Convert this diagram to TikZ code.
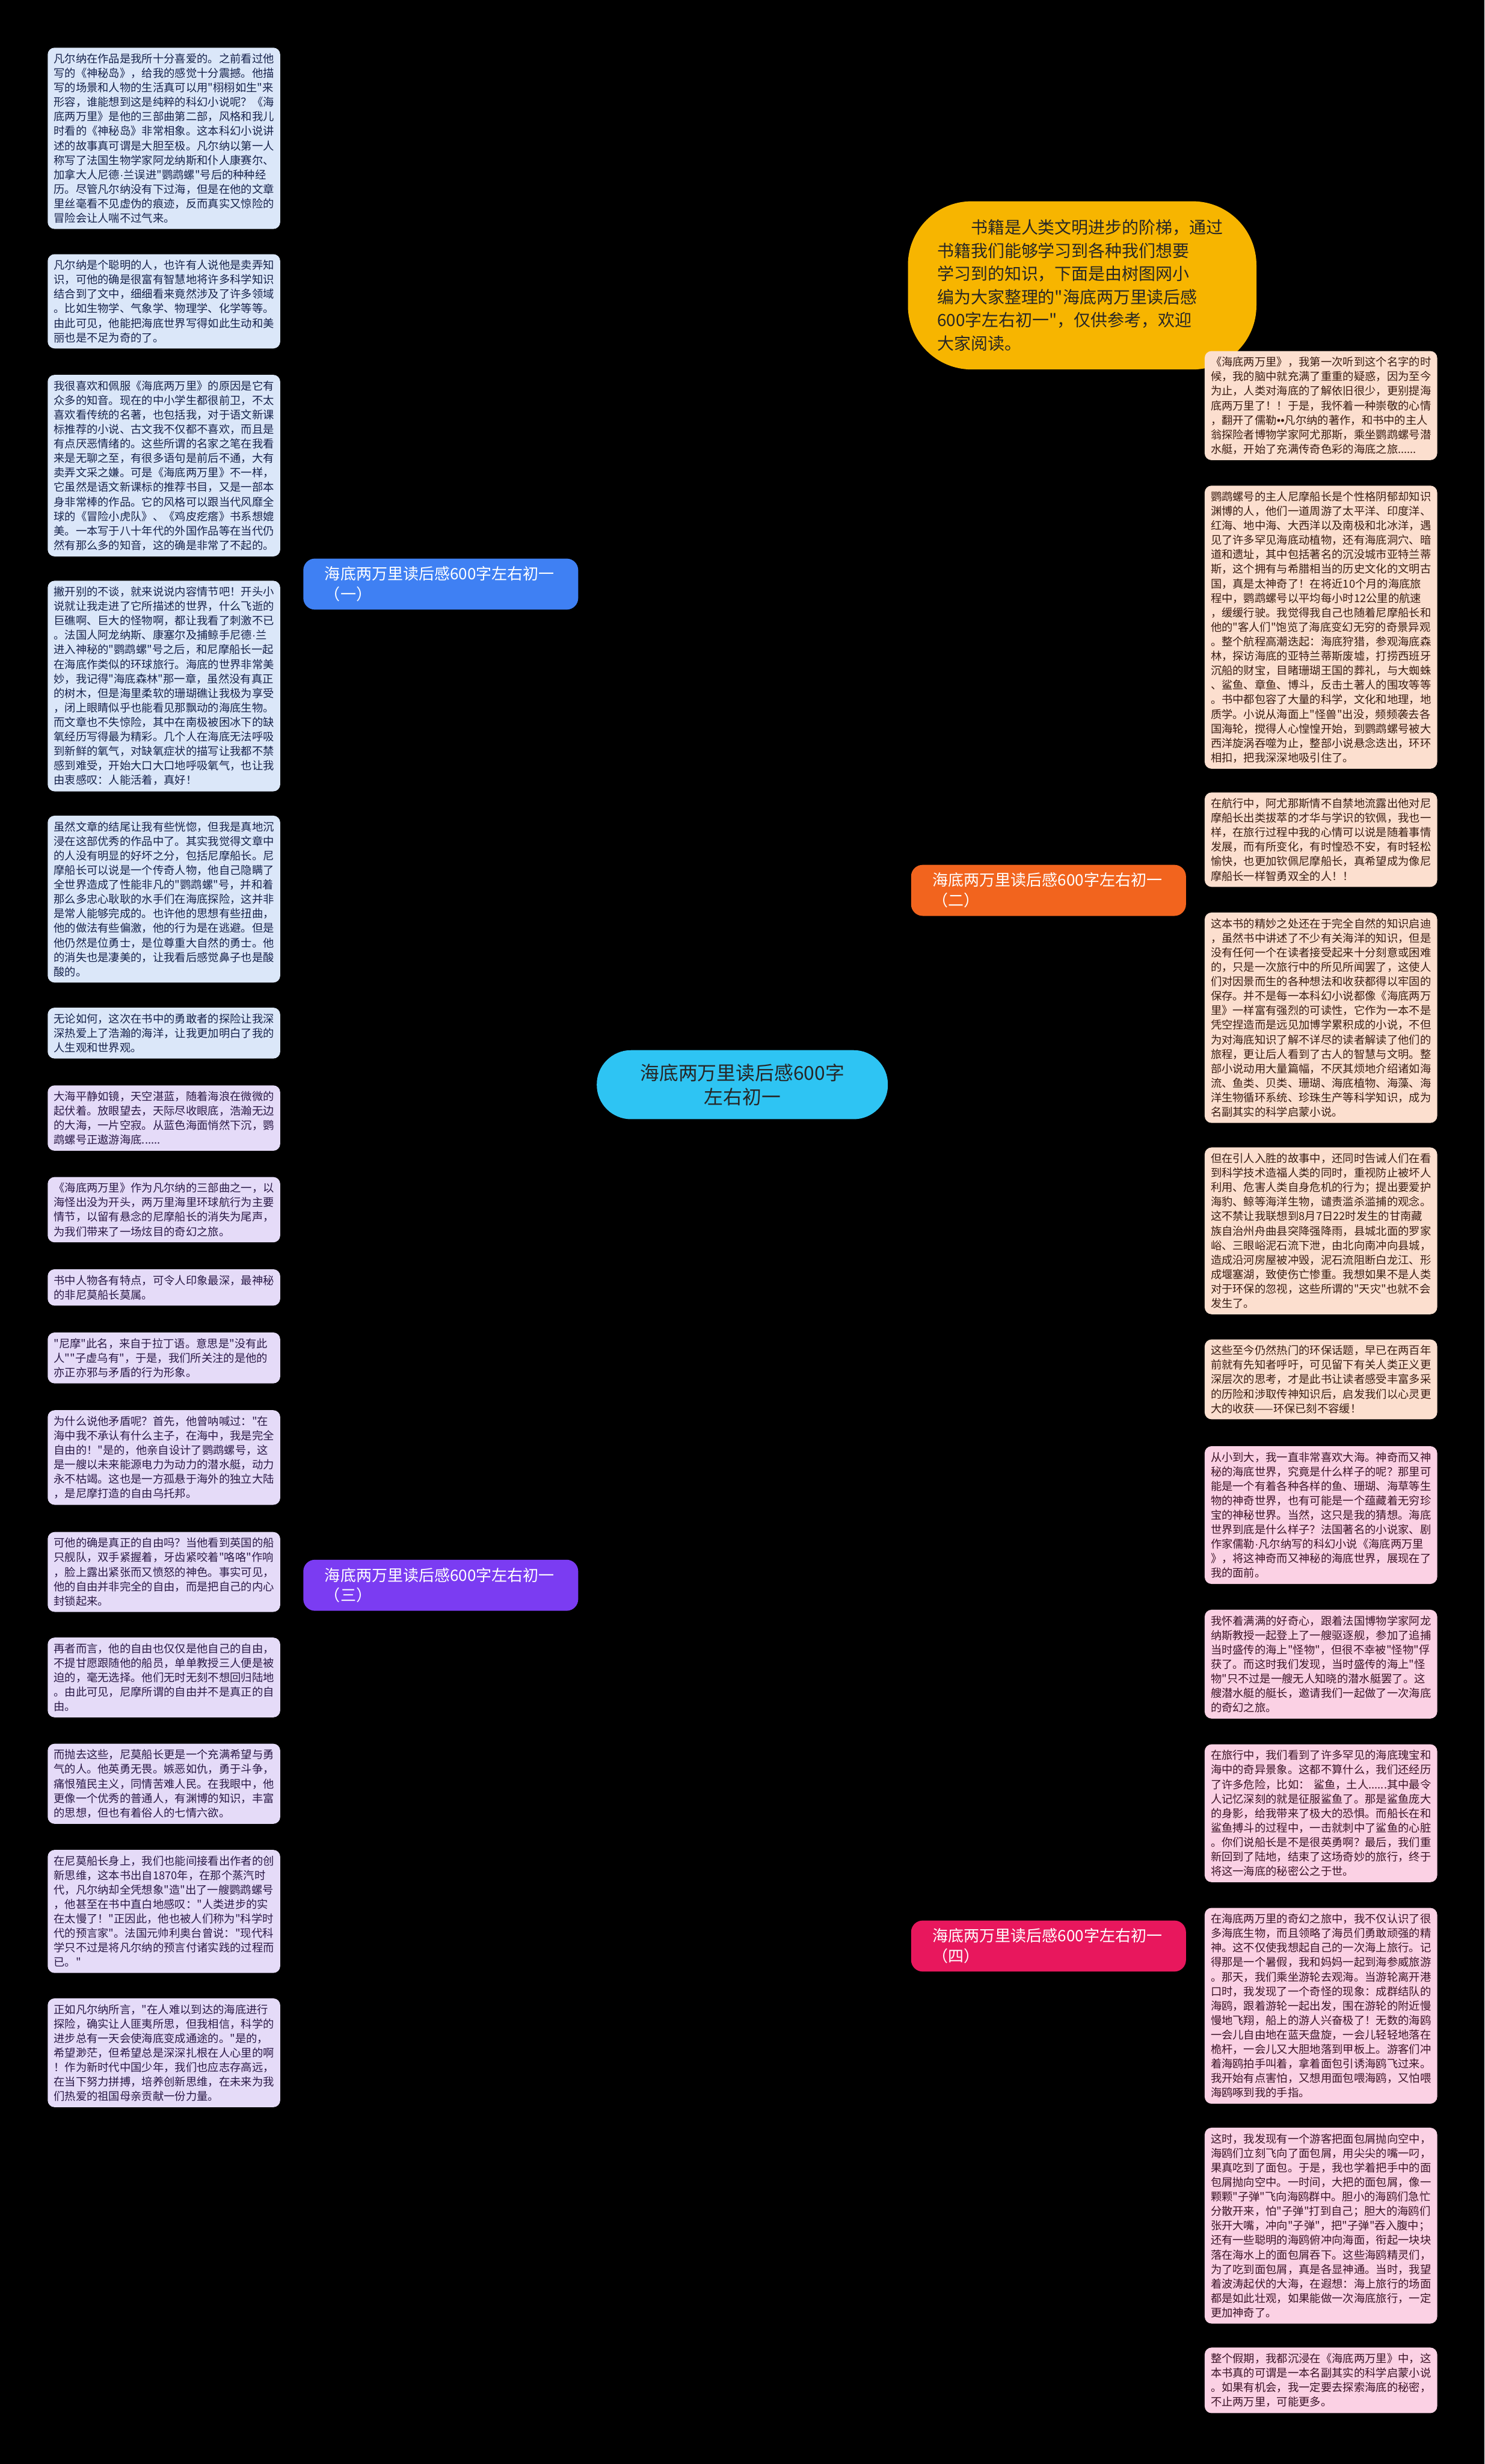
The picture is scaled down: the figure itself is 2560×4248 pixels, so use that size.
\documentclass[tikz,border=0pt]{standalone}
\usepackage{fontspec}
\newfontfamily\cjk{Noto Sans CJK SC}
\newfontfamily\lat{Liberation Sans}
\newcommand{\md}{{\lat ·}}
\newcommand{\bb}{{\lat ••}}
\usetikzlibrary{backgrounds,calc}
\definecolor{cCenter}{HTML}{2EC4F3}
\definecolor{cIntro}{HTML}{F7B500}
\definecolor{cBlue}{HTML}{3F80F3}
\definecolor{cOrange}{HTML}{F2641E}
\definecolor{cPurple}{HTML}{7B3CF2}
\definecolor{cPink}{HTML}{E8175D}
\definecolor{fBlue}{HTML}{DBE7F9}
\definecolor{fOrange}{HTML}{FCDFCF}
\definecolor{fPurple}{HTML}{E5DBF8}
\definecolor{fPink}{HTML}{FBD1E4}
\definecolor{tBlue}{HTML}{16224C}
\definecolor{tOrange}{HTML}{3A1C12}
\definecolor{tPurple}{HTML}{2A1947}
\definecolor{tPink}{HTML}{3C1327}
\tikzset{
  leaf/.style={anchor=north west, text width=380pt, inner xsep=10.5pt, inner ysep=10pt,
    rounded corners=12pt, align=left, font=\cjk\fontsize{19pt}{25pt}\selectfont},
  lb/.style={leaf, fill=fBlue, text=tBlue},
  lo/.style={leaf, fill=fOrange, text=tOrange},
  lp/.style={leaf, fill=fPurple, text=tPurple},
  lk/.style={leaf, fill=fPink, text=tPink},
  branch/.style={minimum width=474pt, minimum height=88pt, text width=400pt, align=left,
    rounded corners=20pt, text=white, inner sep=0pt, font=\cjk\fontsize{27pt}{35pt}\selectfont},
  conn/.style={line width=2.5pt},
  mainconn/.style={line width=4pt}
}
\begin{document}
\begin{tikzpicture}[x=1pt,y=-1pt]
\useasboundingbox (0,0) rectangle (2560,4248);
\fill[black] (0,0) rectangle (2560,4248);

% center and intro
\node[fill=cCenter, rounded corners=59pt, minimum width=502pt, minimum height=119pt, align=center,
  text=black!85, font=\cjk\fontsize{33pt}{42pt}\selectfont] (c) at (1280,1870) {海底两万里读后感600字\\左右初一};
\node[fill=cIntro, rounded corners=110pt, minimum width=601pt, minimum height=290pt, text width=500pt,
  align=left, text=black!85, font=\cjk\fontsize{29pt}{40pt}\selectfont] (intro) at (1866,492)
  {\hspace*{58pt}书籍是人类文明进步的阶梯，通过\\书籍我们能够学习到各种我们想要\\学习到的知识，下面是由树图网小\\编为大家整理的"海底两万里读后感\\600字左右初一"，仅供参考，欢迎\\大家阅读。};

% branches
\node[branch, fill=cBlue] (b1) at (760,1007) {海底两万里读后感600字左右初一\\（一）};
\node[branch, fill=cOrange] (b2) at (1808,1535) {海底两万里读后感600字左右初一\\（二）};
\node[branch, fill=cPurple] (b3) at (760,2733) {海底两万里读后感600字左右初一\\（三）};
\node[branch, fill=cPink] (b4) at (1808,3355) {海底两万里读后感600字左右初一\\（四）};

% left blue leaves
\node[lb] (l1) at (82,82) {凡尔纳在作品是我所十分喜爱的。之前看过他\\写的《神秘岛》，给我的感觉十分震撼。他描\\写的场景和人物的生活真可以用"栩栩如生"来\\形容，谁能想到这是纯粹的科幻小说呢？《海\\底两万里》是他的三部曲第二部，风格和我儿\\时看的《神秘岛》非常相象。这本科幻小说讲\\述的故事真可谓是大胆至极。凡尔纳以第一人\\称写了法国生物学家阿龙纳斯和仆人康赛尔、\\加拿大人尼德\md 兰误进"鹦鹉螺"号后的种种经\\历。尽管凡尔纳没有下过海，但是在他的文章\\里丝毫看不见虚伪的痕迹，反而真实又惊险的\\冒险会让人喘不过气来。};
\node[lb] (l2) at (82,438) {凡尔纳是个聪明的人，也许有人说他是卖弄知\\识，可他的确是很富有智慧地将许多科学知识\\结合到了文中，细细看来竟然涉及了许多领域\\。比如生物学、气象学、物理学、化学等等。\\由此可见，他能把海底世界写得如此生动和美\\丽也是不足为奇的了。};
\node[lb] (l3) at (82,646) {我很喜欢和佩服《海底两万里》的原因是它有\\众多的知音。现在的中小学生都很前卫，不太\\喜欢看传统的名著，也包括我，对于语文新课\\标推荐的小说、古文我不仅都不喜欢，而且是\\有点厌恶情绪的。这些所谓的名家之笔在我看\\来是无聊之至，有很多语句是前后不通，大有\\卖弄文采之嫌。可是《海底两万里》不一样，\\它虽然是语文新课标的推荐书目，又是一部本\\身非常棒的作品。它的风格可以跟当代风靡全\\球的《冒险小虎队》、《鸡皮疙瘩》书系想媲\\美。一本写于八十年代的外国作品等在当代仍\\然有那么多的知音，这的确是非常了不起的。};
\node[lb] (l4) at (82,1001) {撇开别的不谈，就来说说内容情节吧！开头小\\说就让我走进了它所描述的世界，什么飞逝的\\巨礁啊、巨大的怪物啊，都让我看了刺激不已\\。法国人阿龙纳斯、康塞尔及捕鲸手尼德\md 兰\\进入神秘的"鹦鹉螺"号之后，和尼摩船长一起\\在海底作类似的环球旅行。海底的世界非常美\\妙，我记得"海底森林"那一章，虽然没有真正\\的树木，但是海里柔软的珊瑚礁让我极为享受\\，闭上眼睛似乎也能看见那飘动的海底生物。\\而文章也不失惊险，其中在南极被困冰下的缺\\氧经历写得最为精彩。几个人在海底无法呼吸\\到新鲜的氧气，对缺氧症状的描写让我都不禁\\感到难受，开始大口大口地呼吸氧气，也让我\\由衷感叹：人能活着，真好！};
\node[lb] (l5) at (82,1406) {虽然文章的结尾让我有些恍惚，但我是真地沉\\浸在这部优秀的作品中了。其实我觉得文章中\\的人没有明显的好坏之分，包括尼摩船长。尼\\摩船长可以说是一个传奇人物，他自己隐瞒了\\全世界造成了性能非凡的"鹦鹉螺"号，并和着\\那么多忠心耿耿的水手们在海底探险，这并非\\是常人能够完成的。也许他的思想有些扭曲，\\他的做法有些偏激，他的行为是在逃避。但是\\他仍然是位勇士，是位尊重大自然的勇士。他\\的消失也是凄美的，让我看后感觉鼻子也是酸\\酸的。};
\node[lb] (l6) at (82,1737) {无论如何，这次在书中的勇敢者的探险让我深\\深热爱上了浩瀚的海洋，让我更加明白了我的\\人生观和世界观。};

% left purple leaves
\node[lp] (p1) at (82,1871) {大海平静如镜，天空湛蓝，随着海浪在微微的\\起伏着。放眼望去，天际尽收眼底，浩瀚无边\\的大海，一片空寂。从蓝色海面悄然下沉，鹦\\鹉螺号正遨游海底......};
\node[lp] (p2) at (82,2029) {《海底两万里》作为凡尔纳的三部曲之一，以\\海怪出没为开头，两万里海里环球航行为主要\\情节，以留有悬念的尼摩船长的消失为尾声，\\为我们带来了一场炫目的奇幻之旅。};
\node[lp] (p3) at (82,2188) {书中人物各有特点，可令人印象最深，最神秘\\的非尼莫船长莫属。};
\node[lp] (p4) at (82,2297) {"尼摩"此名，来自于拉丁语。意思是"没有此\\人""子虚乌有"，于是，我们所关注的是他的\\亦正亦邪与矛盾的行为形象。};
\node[lp] (p5) at (82,2431) {为什么说他矛盾呢？首先，他曾呐喊过："在\\海中我不承认有什么主子，在海中，我是完全\\自由的！"是的，他亲自设计了鹦鹉螺号，这\\是一艘以未来能源电力为动力的潜水艇，动力\\永不枯竭。这也是一方孤悬于海外的独立大陆\\，是尼摩打造的自由乌托邦。};
\node[lp] (p6) at (82,2641) {可他的确是真正的自由吗？当他看到英国的船\\只舰队，双手紧握着，牙齿紧咬着"咯咯"作响\\，脸上露出紧张而又愤怒的神色。事实可见，\\他的自由并非完全的自由，而是把自己的内心\\封锁起来。};
\node[lp] (p7) at (82,2823) {再者而言，他的自由也仅仅是他自己的自由，\\不提甘愿跟随他的船员，单单教授三人便是被\\迫的，毫无选择。他们无时无刻不想回归陆地\\。由此可见，尼摩所谓的自由并不是真正的自\\由。};
\node[lp] (p8) at (82,3006) {而抛去这些，尼莫船长更是一个充满希望与勇\\气的人。他英勇无畏。嫉恶如仇，勇于斗争，\\痛恨殖民主义，同情苦难人民。在我眼中，他\\更像一个优秀的普通人，有渊博的知识，丰富\\的思想，但也有着俗人的七情六欲。};
\node[lp] (p9) at (82,3189) {在尼莫船长身上，我们也能间接看出作者的创\\新思维，这本书出自1870年，在那个蒸汽时\\代，凡尔纳却全凭想象"造"出了一艘鹦鹉螺号\\，他甚至在书中直白地感叹："人类进步的实\\在太慢了！"正因此，他也被人们称为"科学时\\代的预言家"。法国元帅利奥台曾说："现代科\\学只不过是将凡尔纳的预言付诸实践的过程而\\已。"};
\node[lp] (p10) at (82,3445) {正如凡尔纳所言，"在人难以到达的海底进行\\探险，确实让人匪夷所思，但我相信，科学的\\进步总有一天会使海底变成通途的。"是的，\\希望渺茫，但希望总是深深扎根在人心里的啊\\！作为新时代中国少年，我们也应志存高远，\\在当下努力拼搏，培养创新思维，在未来为我\\们热爱的祖国母亲贡献一份力量。};

% right orange leaves
\node[lo] (o1) at (2077,605) {《海底两万里》，我第一次听到这个名字的时\\候，我的脑中就充满了重重的疑惑，因为至今\\为止，人类对海底的了解依旧很少，更别提海\\底两万里了！！于是，我怀着一种崇敬的心情\\，翻开了儒勒\bb 凡尔纳的著作，和书中的主人\\翁探险者博物学家阿尤那斯，乘坐鹦鹉螺号潜\\水艇，开始了充满传奇色彩的海底之旅......};
\node[lo] (o2) at (2077,837) {鹦鹉螺号的主人尼摩船长是个性格阴郁却知识\\渊博的人，他们一道周游了太平洋、印度洋、\\红海、地中海、大西洋以及南极和北冰洋，遇\\见了许多罕见海底动植物，还有海底洞穴、暗\\道和遗址，其中包括著名的沉没城市亚特兰蒂\\斯，这个拥有与希腊相当的历史文化的文明古\\国，真是太神奇了！在将近10个月的海底旅\\程中，鹦鹉螺号以平均每小时12公里的航速\\，缓缓行驶。我觉得我自己也随着尼摩船长和\\他的"客人们"饱览了海底变幻无穷的奇景异观\\。整个航程高潮迭起：海底狩猎，参观海底森\\林，探访海底的亚特兰蒂斯废墟，打捞西班牙\\沉船的财宝，目睹珊瑚王国的葬礼，与大蜘蛛\\、鲨鱼、章鱼、博斗，反击土著人的围攻等等\\。书中都包容了大量的科学，文化和地理，地\\质学。小说从海面上"怪兽"出没，频频袭去各\\国海轮，搅得人心惶惶开始，到鹦鹉螺号被大\\西洋旋涡吞噬为止，整部小说悬念迭出，环环\\相扣，把我深深地吸引住了。};
\node[lo] (o3) at (2077,1366) {在航行中，阿尤那斯情不自禁地流露出他对尼\\摩船长出类拔萃的才华与学识的钦佩，我也一\\样，在旅行过程中我的心情可以说是随着事情\\发展，而有所变化，有时惶恐不安，有时轻松\\愉快，也更加钦佩尼摩船长，真希望成为像尼\\摩船长一样智勇双全的人！！};
\node[lo] (o4) at (2077,1573) {这本书的精妙之处还在于完全自然的知识启迪\\，虽然书中讲述了不少有关海洋的知识，但是\\没有任何一个在读者接受起来十分刻意或困难\\的，只是一次旅行中的所见所闻罢了，这使人\\们对因景而生的各种想法和收获都得以牢固的\\保存。并不是每一本科幻小说都像《海底两万\\里》一样富有强烈的可读性，它作为一本不是\\凭空捏造而是远见加博学累积成的小说，不但\\为对海底知识了解不详尽的读者解读了他们的\\旅程，更让后人看到了古人的智慧与文明。整\\部小说动用大量篇幅，不厌其烦地介绍诸如海\\流、鱼类、贝类、珊瑚、海底植物、海藻、海\\洋生物循环系统、珍珠生产等科学知识，成为\\名副其实的科学启蒙小说。};
\node[lo] (o5) at (2077,1978) {但在引人入胜的故事中，还同时告诫人们在看\\到科学技术造福人类的同时，重视防止被坏人\\利用、危害人类自身危机的行为；提出要爱护\\海豹、鲸等海洋生物，谴责滥杀滥捕的观念。\\这不禁让我联想到8月7日22时发生的甘南藏\\族自治州舟曲县突降强降雨，县城北面的罗家\\峪、三眼峪泥石流下泄，由北向南冲向县城，\\造成沿河房屋被冲毁，泥石流阻断白龙江、形\\成堰塞湖，致使伤亡惨重。我想如果不是人类\\对于环保的忽视，这些所谓的"天灾"也就不会\\发生了。};
\node[lo] (o6) at (2077,2309) {这些至今仍然热门的环保话题，早已在两百年\\前就有先知者呼吁，可见留下有关人类正义更\\深层次的思考，才是此书让读者感受丰富多采\\的历险和涉取传神知识后，启发我们以心灵更\\大的收获——环保已刻不容缓！};

% right pink leaves
\node[lk] (k1) at (2077,2493) {从小到大，我一直非常喜欢大海。神奇而又神\\秘的海底世界，究竟是什么样子的呢？那里可\\能是一个有着各种各样的鱼、珊瑚、海草等生\\物的神奇世界，也有可能是一个蕴藏着无穷珍\\宝的神秘世界。当然，这只是我的猜想。海底\\世界到底是什么样子？法国著名的小说家、剧\\作家儒勒\md 凡尔纳写的科幻小说《海底两万里\\》，将这神奇而又神秘的海底世界，展现在了\\我的面前。};
\node[lk] (k2) at (2077,2775) {我怀着满满的好奇心，跟着法国博物学家阿龙\\纳斯教授一起登上了一艘驱逐舰，参加了追捕\\当时盛传的海上"怪物"，但很不幸被"怪物"俘\\获了。而这时我们发现，当时盛传的海上"怪\\物"只不过是一艘无人知晓的潜水艇罢了。这\\艘潜水艇的艇长，邀请我们一起做了一次海底\\的奇幻之旅。};
\node[lk] (k3) at (2077,3007) {在旅行中，我们看到了许多罕见的海底瑰宝和\\海中的奇异景象。这都不算什么，我们还经历\\了许多危险，比如：~鲨鱼，土人......其中最令\\人记忆深刻的就是征服鲨鱼了。那是鲨鱼庞大\\的身影，给我带来了极大的恐惧。而船长在和\\鲨鱼搏斗的过程中，一击就刺中了鲨鱼的心脏\\。你们说船长是不是很英勇啊？最后，我们重\\新回到了陆地，结束了这场奇妙的旅行，终于\\将这一海底的秘密公之于世。};
\node[lk] (k4) at (2077,3289) {在海底两万里的奇幻之旅中，我不仅认识了很\\多海底生物，而且领略了海员们勇敢顽强的精\\神。这不仅使我想起自己的一次海上旅行。记\\得那是一个暑假，我和妈妈一起到海参威旅游\\。那天，我们乘坐游轮去观海。当游轮离开港\\口时，我发现了一个奇怪的现象：成群结队的\\海鸥，跟着游轮一起出发，围在游轮的附近慢\\慢地飞翔，船上的游人兴奋极了！无数的海鸥\\一会儿自由地在蓝天盘旋，一会儿轻轻地落在\\桅杆，一会儿又大胆地落到甲板上。游客们冲\\着海鸥拍手叫着，拿着面包引诱海鸥飞过来。\\我开始有点害怕，又想用面包喂海鸥，又怕喂\\海鸥啄到我的手指。};
\node[lk] (k5) at (2077,3668) {这时，我发现有一个游客把面包屑抛向空中，\\海鸥们立刻飞向了面包屑，用尖尖的嘴一叼，\\果真吃到了面包。于是，我也学着把手中的面\\包屑抛向空中。一时间，大把的面包屑，像一\\颗颗"子弹"飞向海鸥群中。胆小的海鸥们急忙\\分散开来，怕"子弹"打到自己；胆大的海鸥们\\张开大嘴，冲向"子弹"，把"子弹"吞入腹中；\\还有一些聪明的海鸥俯冲向海面，衔起一块块\\落在海水上的面包屑吞下。这些海鸥精灵们，\\为了吃到面包屑，真是各显神通。当时，我望\\着波涛起伏的大海，在遐想：海上旅行的场面\\都是如此壮观，如果能做一次海底旅行，一定\\更加神奇了。};
\node[lk] (k6) at (2077,4047) {整个假期，我都沉浸在《海底两万里》中，这\\本书真的可谓是一本名副其实的科学启蒙小说\\。如果有机会，我一定要去探索海底的秘密，\\不止两万里，可能更多。};

\begin{pgfonlayer}{background}
% main connectors
\draw[mainconn, cIntro] (c.center) .. controls (1470,1870) and (1480,492) .. (intro.west);
\draw[mainconn, cBlue] (c.center) .. controls (1040,1870) and (1040,1007) .. (b1.east);
\draw[mainconn, cOrange] (c.center) .. controls (1520,1870) and (1520,1535) .. (b2.west);
\draw[mainconn, cPurple] (c.center) .. controls (1040,1870) and (1040,2733) .. (b3.east);
\draw[mainconn, cPink] (c.center) .. controls (1520,1870) and (1520,3355) .. (b4.west);
% leaf connectors
\foreach \n in {l1,l2,l3,l4,l5,l6}
  \draw[conn, cBlue] (b1.west) .. controls +(-25,0) and +(15,0) .. (\n.east);
\foreach \n in {p1,p2,p3,p4,p5,p6,p7,p8,p9,p10}
  \draw[conn, cPurple] (b3.west) .. controls +(-25,0) and +(15,0) .. (\n.east);
\foreach \n in {o1,o2,o3,o4,o5,o6}
  \draw[conn, cOrange] (b2.east) .. controls +(25,0) and +(-15,0) .. (\n.west);
\foreach \n in {k1,k2,k3,k4,k5,k6}
  \draw[conn, cPink] (b4.east) .. controls +(25,0) and +(-15,0) .. (\n.west);
\end{pgfonlayer}
\end{tikzpicture}
\end{document}
